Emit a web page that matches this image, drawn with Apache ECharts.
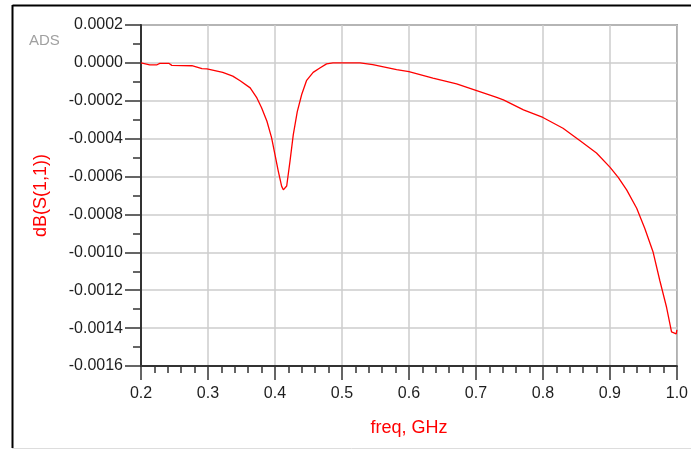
<!DOCTYPE html>
<html>
<head>
<meta charset="utf-8">
<script src="https://cdn.jsdelivr.net/npm/echarts@6/dist/echarts.min.js"></script>
<style>
html,body{margin:0;padding:0;background:#fff;}
#chart{width:691px;height:450px;}
</style>
</head>
<body>
<div id="chart"></div>
<script>
// Frequency (GHz) sample points
var freq = [0.200,0.213,0.224,0.228,0.242,0.246,0.276,0.291,0.2985,0.322,0.337,0.348,0.363,0.373,0.380,0.388,0.395,0.400,0.405,0.410,0.4125,0.4175,0.4224,0.4273,0.4333,0.4399,0.4473,0.457,0.467,0.477,0.4866,0.527,0.546,0.5816,0.600,0.6358,0.6712,0.700,0.731,0.741,0.771,0.800,0.830,0.855,0.880,0.900,0.9124,0.925,0.940,0.952,0.9646,0.9746,0.9846,0.992,0.994,0.999,1.000];
// dB(S(1,1)) values
var s11 = [0,-0.00001,-0.00001,-0.000003,-0.000003,-0.000013,-0.000015,-0.00003,-0.000032,-0.00005,-0.00007,-0.000094,-0.000132,-0.000185,-0.000237,-0.000308,-0.000396,-0.000484,-0.000573,-0.000652,-0.00067,-0.00065,-0.00052,-0.00038,-0.000257,-0.000167,-0.000092,-0.00005,-0.000027,-0.000005,0,0,-0.000009,-0.000035,-0.000046,-0.00008,-0.000111,-0.000145,-0.000182,-0.000195,-0.000248,-0.000288,-0.000345,-0.00041,-0.000476,-0.00055,-0.000604,-0.00067,-0.000767,-0.000873,-0.001,-0.00115,-0.00129,-0.00142,-0.00143,-0.00143,-0.00141];
var xTicks = {min:0.2, max:1.0, step:0.1};
var yTicks = {min:-0.0016, max:0.0002, step:0.0002};
var xName = 'freq, GHz';
var yName = 'dB(S(1,1))';
var watermark = 'ADS';

var data = freq.map(function(f,i){return [f, s11[i]];});
var chart = echarts.init(document.getElementById('chart'), null, {renderer:'canvas'});
var labelFont = {fontFamily:'Liberation Sans, Arial, sans-serif', fontSize:16, color:'#1e1e1e'};
chart.setOption({
  animation:false,
  backgroundColor:'#ffffff',
  grid:{left:141, top:25, right:14, bottom:84, show:true, borderColor:'#444', borderWidth:1.5},
  xAxis:{
    type:'value', min:xTicks.min, max:xTicks.max, interval:xTicks.step,
    name:xName, nameLocation:'middle', nameGap:53,
    nameTextStyle:{color:'#ff0000', fontSize:18, fontFamily:'Liberation Sans, Arial, sans-serif'},
    axisLine:{onZero:false, lineStyle:{color:'#333', width:2}},
    axisTick:{show:true, inside:false, length:14, lineStyle:{color:'#333', width:1.5}},
    minorTick:{show:true, splitNumber:5, length:7, lineStyle:{color:'#333', width:1.5}},
    splitLine:{show:true, lineStyle:{color:'#cccccc', width:1.5}},
    axisLabel:Object.assign({margin:20, formatter:function(v){return v.toFixed(1);}}, labelFont)
  },
  yAxis:{
    type:'value', min:yTicks.min, max:yTicks.max, interval:yTicks.step,
    name:yName, nameLocation:'middle', nameGap:91,
    nameTextStyle:{color:'#ff0000', fontSize:18, fontFamily:'Liberation Sans, Arial, sans-serif'},
    axisLine:{show:true, onZero:false, lineStyle:{color:'#333', width:2}},
    axisTick:{show:true, inside:false, length:16, lineStyle:{color:'#333', width:1.5}},
    minorTick:{show:true, splitNumber:2, length:8, lineStyle:{color:'#333', width:1.5}},
    splitLine:{show:true, lineStyle:{color:'#cccccc', width:1.5}},
    axisLabel:Object.assign({margin:18, formatter:function(v){
      if (Math.abs(v) < 1e-12) return '0.0000';
      return v.toFixed(4);
    }}, labelFont)
  },
  series:[{
    type:'line', data:data, showSymbol:false, symbol:'none',
    lineStyle:{color:'#ff0000', width:1.3}, z:5
  }],
  graphic:[
    {type:'line', shape:{x1:12.5, y1:5.5, x2:691, y2:5.5}, style:{stroke:'#000', lineWidth:2}, silent:true},
    {type:'line', shape:{x1:12.5, y1:5, x2:12.5, y2:448}, style:{stroke:'#000', lineWidth:2}, silent:true},
    {type:'line', shape:{x1:12, y1:448.5, x2:691, y2:448.5}, style:{stroke:'#dddddd', lineWidth:1}, silent:true},
    {type:'text', left:29, top:33, style:{text:watermark, fill:'#a0a0a0', font:'15px Liberation Sans, Arial, sans-serif'}, silent:true}
  ]
});
</script>
</body>
</html>
